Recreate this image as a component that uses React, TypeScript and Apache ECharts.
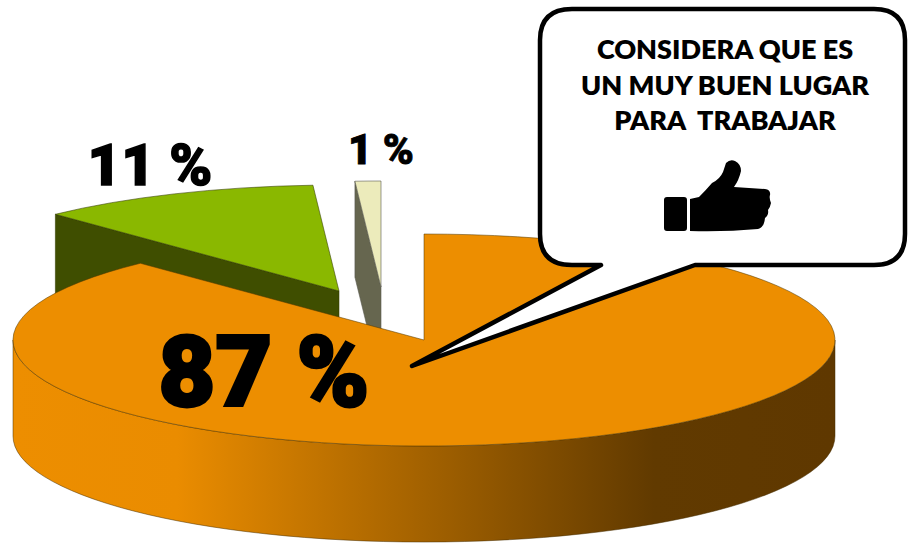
import React, { useEffect, useRef } from "react";
import * as echarts from "echarts";

// Share of answers per slice, in drawing order starting at twelve o'clock.
const sliceNames = ["Muy buen lugar", "Buen lugar", "Otro"];
const sliceValues = [87, 11, 1];
const calloutLines = ["CONSIDERA QUE ES", "UN MUY BUEN LUGAR", "PARA  TRABAJAR"];

// Pie projection and per-slice styling.
const RX = 411;
const RY = 106;
const DEPTH = 96;
const apexes = [
  [424, 340],
  [339, 291],
  [381, 287],
];
const topColors = ["#ed8e00", "#8ab800", "#ecebbb"];
const wallColors = ["#ed8e00", "#3f4e00", "#66664f"];
const edgeColors = ["rgba(80,55,0,0.75)", "rgba(50,60,0,0.8)", "rgba(90,90,80,0.85)"];
const layers = [30, 20, 10];
const labelBoxes = [
  { x: 264, y: 372, size: 98, stroke: 3 },
  { x: 150, y: 165, size: 58, stroke: 1.5 },
  { x: 381, y: 149, size: 42, stroke: 0.8 },
];

const total = sliceValues.reduce((a, b) => a + b, 0);
const startAngles = sliceValues.map((_, i) =>
  (sliceValues.slice(0, i).reduce((a, b) => a + b, 0) / total) * Math.PI * 2
);

const rimPoint = (apex: number[], angle: number, drop = 0) => [
  apex[0] + RX * Math.sin(angle),
  apex[1] - RY * Math.cos(angle) + drop,
];
const fmt = (p: number[]) => `${p[0].toFixed(2)} ${p[1].toFixed(2)}`;

function renderSlice(params: any, api: any) {
  const i = params.dataIndex;
  const apex = apexes[i];
  const from = startAngles[i];
  const sweep = (api.value(0) / total) * Math.PI * 2;
  const to = from + sweep;
  const large = sweep > Math.PI ? 1 : 0;
  const children: any[] = [];

  const a = rimPoint(apex, from);
  const b = rimPoint(apex, to);
  const topPath = `M${fmt(apex)}L${fmt(a)}A${RX} ${RY} 0 ${large} 1 ${fmt(b)}Z`;

  if (i === 0) {
    // The large slice shows its curved rim between the two widest points of the ellipse.
    const left = rimPoint(apex, Math.PI * 1.5);
    const right = rimPoint(apex, Math.PI * 0.5);
    const rimPath =
      `M${fmt(left)}A${RX} ${RY} 0 0 0 ${fmt(right)}` +
      `L${fmt([right[0], right[1] + DEPTH])}A${RX} ${RY} 0 0 1 ${fmt([left[0], left[1] + DEPTH])}Z`;
    children.push({
      type: "path",
      z2: layers[i],
      shape: { pathData: rimPath },
      style: {
        fill: new echarts.graphic.LinearGradient(0, 0, 1, 0, [
          { offset: 0, color: "#ed8e00" },
          { offset: 0.2, color: "#ea8c00" },
          { offset: 0.78, color: "#613a00" },
          { offset: 1, color: "#5f3800" },
        ]),
        stroke: "rgba(70,45,0,0.7)",
        lineWidth: 0.7,
      },
    });
  } else {
    // Pulled-out slices show the cut face that runs from the rim to the apex.
    const wallPath =
      `M${fmt(a)}L${fmt(apex)}L${fmt([apex[0], apex[1] + DEPTH])}L${fmt([a[0], a[1] + DEPTH])}Z`;
    children.push({
      type: "path",
      z2: layers[i],
      shape: { pathData: wallPath },
      style: { fill: wallColors[i], stroke: edgeColors[i], lineWidth: 0.7 },
    });
  }

  children.push({
    type: "path",
    z2: layers[i] + 1,
    shape: { pathData: topPath },
    style: { fill: topColors[i], stroke: edgeColors[i], lineWidth: 0.7 },
  });

  const box = labelBoxes[i];
  children.push({
    type: "text",
    z2: 60,
    style: {
      x: box.x,
      y: box.y,
      text: `${api.value(0)} %`,
      fontFamily: "Roboto",
      fontWeight: 900,
      fontSize: box.size,
      fill: "#000",
      stroke: "#000",
      lineWidth: box.stroke,
      align: "center",
      verticalAlign: "middle",
    },
  });
  return { type: "group", children };
}

const bubblePath =
  "M572 9L874 9Q905 9 905 40L905 234Q905 265 874 265L695 265L412 366L601 265L572 265" +
  "Q540 265 540 234L540 40Q540 9 572 9Z";
const thumbPath =
  "M667 197L684 197Q687 197 687 200L687 228Q687 231 684 231L667 231Q664 231 664 228L664 200Q664 197 667 197Z" +
  "M690 199L699 197Q706 190 712 183Q720 179 723 172L726 163Q730 159 735 161Q741 164 741 171" +
  "Q739 180 734 187L765 189Q771 190 770 195Q769 198 771 203Q770 208 768 210Q769 215 765 218" +
  "Q764 228 758 229Q725 232 690 231Z";
echarts.graphic.registerShape("calloutBubble", echarts.graphic.extendPath(bubblePath, {}));
echarts.graphic.registerShape("thumbIcon", echarts.graphic.extendPath(thumbPath, {}));

const calloutY = [48, 84, 119];

export default function App() {
  const ref = useRef<HTMLDivElement>(null);
  useEffect(() => {
    const chart = echarts.init(ref.current!, undefined, { renderer: "svg" });
    chart.setOption({
      animation: false,
      backgroundColor: "#ffffff",
      series: [
        {
          type: "custom",
          coordinateSystem: "none",
          silent: true,
          renderItem: renderSlice,
          data: sliceValues.map((value, i) => ({ name: sliceNames[i], value })),
        },
      ],
      graphic: [
        {
          type: "calloutBubble",
          x: 0,
          y: 0,
          z: 10,
          style: { fill: "#fff", stroke: "#000", lineWidth: 4.5, lineJoin: "round" },
        },
        ...calloutLines.map((line, i) => ({
          type: "text",
          z: 11,
          x: 725,
          y: calloutY[i],
          style: {
            text: line,
            fontFamily: "Lato",
            fontWeight: 800,
            fontSize: 27,
            fill: "#000",
            align: "center",
            verticalAlign: "middle",
          },
        })),
        { type: "thumbIcon", x: 0, y: 0, z: 11, style: { fill: "#000" } },
      ],
    });
    return () => chart.dispose();
  }, []);
  return (
    <div
      ref={ref}
      style={{ position: "fixed", left: 0, top: 0, width: 908, height: 544 }}
    />
  );
}
